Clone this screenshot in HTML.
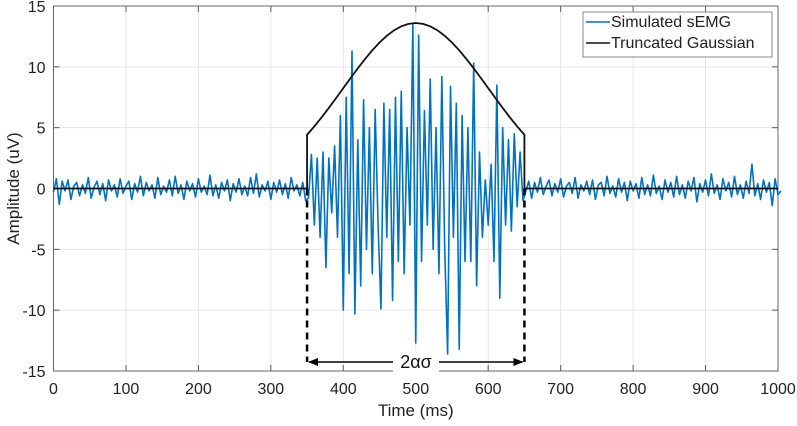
<!DOCTYPE html>
<html><head><meta charset="utf-8"><style>
body{margin:0;background:#fff;}
svg{display:block;font-family:"Liberation Sans",sans-serif;}
</style></head><body>
<svg id="chart" width="797" height="426" viewBox="0 0 797 426">
<g id="grid"></g>
<g id="axes"></g>
<g id="series"></g>
<g id="annot"></g>
<g id="legend"></g>
</svg>
<script>
const xTicks=[0,100,200,300,400,500,600,700,800,900,1000];
const yTicks=[-15,-10,-5,0,5,10,15];
const sampleStep=4;
const noiseLeft=[-0.3,0.8,-1.3,0.6,-0.2,0.7,-0.9,0.2,0.5,-0.6,0.3,-0.4,0.9,-0.8,0.1,0.6,-0.5,0.4,-1.0,0.7,-0.2,0.3,-0.7,0.8,-0.4,0.2,0.6,-0.9,0.4,-0.3,1.0,-0.6,0.5,-0.2,0.3,-0.8,0.9,-0.5,0.2,-0.3,0.7,-0.6,1.0,-0.4,0.3,-0.9,0.6,-0.2,0.4,-0.7,0.8,-0.3,0.2,-0.5,1.1,-0.6,0.3,-0.8,0.5,-0.2,0.7,-1.0,0.4,-0.3,0.8,-0.5,0.2,-0.6,0.9,-0.4,1.2,-0.7,0.3,-0.2,0.6,-0.9,0.5,-0.3,0.7,-0.5,0.4,-0.8,0.9,-0.2,0.3,-0.6,0.5,-1.0];
const burst=[-0.8,2.8,-3,2.5,-4,3,-6.5,2.5,-2,3.5,-4,6,-10,7.5,-7,11.3,-10.3,4,-8,7.3,-5,5,-7,6.5,-3,-9.9,7,-4,6.5,-9.2,7.5,-6,8,-7,5,-3,13.5,-12.7,12.6,-6,6.4,-3,9,-5,5,-7,9.2,-5,-13.6,8.4,-4,7,-13.2,6,-6,5,-6,10.3,-8,3,-4,0.7,-3,2,-6,8.5,-9,5,-3,4,-3.5,4.5,-1.5,3,-1];
const noiseRight=[-0.2,0.6,-0.8,0.5,-0.3,0.9,-0.5,0.2,0.7,-0.6,0.4,-0.3,0.8,-0.7,0.2,0.5,-0.4,0.9,-0.8,0.3,-0.2,0.6,-0.5,0.7,-0.9,0.3,0.5,-0.6,1.0,-0.4,0.2,-0.7,0.8,-0.3,0.5,-1.0,0.6,-0.2,0.4,-0.8,0.9,-0.5,0.3,-0.6,1.1,-0.4,0.2,-0.9,0.7,-0.3,0.5,-0.7,1.0,-0.5,0.3,-0.8,0.6,-0.2,0.9,-1.1,0.4,-0.3,0.7,-0.6,1.2,-0.4,0.3,-0.9,0.8,-0.2,0.5,-0.7,1.0,-0.5,0.3,-0.8,0.6,-0.4,2.0,-0.6,0.4,-0.9,0.7,-0.3,0.5,-1.4,0.8,-0.5,-0.2];
const gaussT=[350,360,370,380,390,400,410,420,430,440,450,460,470,480,490,500,510,520,530,540,550,560,570,580,590,600,610,620,630,640,650];
const gaussV=[4.42,5.10,5.84,6.62,7.43,8.25,9.07,9.88,10.64,11.36,12.00,12.55,13.00,13.33,13.53,13.6,13.53,13.33,13.00,12.55,12.00,11.36,10.64,9.88,9.07,8.25,7.43,6.62,5.84,5.10,4.42];
const truncStart=350, truncEnd=650;

const L=53.5,R=778,T=6,B=371;
const X=v=>L+(v-0)/(1000-0)*(R-L);
const Y=v=>B-(v+15)/30*(B-T);
const NS="http://www.w3.org/2000/svg";
function mk(tag,attrs,parent){const e=document.createElementNS(NS,tag);for(const k in attrs)e.setAttribute(k,attrs[k]);parent.appendChild(e);return e;}
const grid=document.getElementById('grid'),axes=document.getElementById('axes'),series=document.getElementById('series'),annot=document.getElementById('annot'),legend=document.getElementById('legend');

mk('rect',{x:L,y:T,width:R-L,height:B-T,fill:'#fff'},grid);
xTicks.forEach(t=>{
 const g=mk('line',{x1:X(t),x2:X(t),y1:T,y2:B,stroke:'#e6e6e6','stroke-width':1},grid);
 
 
 mk('line',{x1:X(t),x2:X(t),y1:B,y2:B-6,stroke:'#5a5a5a','stroke-width':1},axes);
 mk('line',{x1:X(t),x2:X(t),y1:T,y2:T+6,stroke:'#5a5a5a','stroke-width':1},axes);
 const tx=mk('text',{x:X(t),y:B+23,'text-anchor':'middle','font-size':16,fill:'#222'},axes);
 tx.textContent=t;
 
 
});
yTicks.forEach(t=>{
 const g=mk('line',{x1:L,x2:R,y1:Y(t),y2:Y(t),stroke:'#e6e6e6','stroke-width':1},grid);
 
 
 mk('line',{x1:L,x2:L+6,y1:Y(t),y2:Y(t),stroke:'#5a5a5a','stroke-width':1},axes);
 mk('line',{x1:R,x2:R-6,y1:Y(t),y2:Y(t),stroke:'#5a5a5a','stroke-width':1},axes);
 const tx=mk('text',{x:L-8,y:Y(t)+6,'text-anchor':'end','font-size':16,fill:'#222'},axes);
 tx.textContent=t;
 
 
});
mk('rect',{x:L,y:T,width:R-L,height:B-T,fill:'none',stroke:'#666','stroke-width':1},axes);
const xt=mk('text',{x:X(500),y:B+45,'text-anchor':'middle','font-size':17,fill:'#222'},axes);
xt.textContent='Time (ms)';


const yt=mk('text',{x:0,y:0,'text-anchor':'middle','font-size':17,fill:'#222',transform:`translate(19,${Y(0)}) rotate(-90)`},axes);
yt.textContent='Amplitude (uV)';



const sig=noiseLeft.concat(burst,noiseRight);
let d='';
sig.forEach((v,i)=>{d+=(i?'L':'M')+X(i*sampleStep).toFixed(2)+','+Y(v).toFixed(2);});
const sp=mk('path',{d:d,fill:'none',stroke:'#0072BD','stroke-width':1.6,'stroke-linejoin':'round'},series);



let gd='M'+X(0)+','+Y(0)+'L'+X(truncStart)+','+Y(0);
gaussT.forEach((t,i)=>{gd+='L'+X(t).toFixed(2)+','+Y(gaussV[i]).toFixed(2);});
gd+='L'+X(truncEnd)+','+Y(0)+'L'+X(1000)+','+Y(0);
const gp=mk('path',{d:gd,fill:'none',stroke:'#111','stroke-width':1.8},series);



const ay=362;
[truncStart,truncEnd].forEach(t=>{
 const l=mk('line',{x1:X(t),x2:X(t),y1:Y(0),y2:ay,stroke:'#000','stroke-width':2.5,'stroke-dasharray':'7,5'},annot);
 
 
});
mk('defs',{},annot).innerHTML='<marker id="ah" markerWidth="10" markerHeight="8" refX="9" refY="4" orient="auto-start-reverse" markerUnits="userSpaceOnUse"><path d="M0,0L10,4L0,8z" fill="#000"/></marker>';
const ar=mk('line',{x1:X(truncStart)+2,x2:X(truncEnd)-2,y1:ay,y2:ay,stroke:'#000','stroke-width':1.6,'marker-start':'url(#ah)','marker-end':'url(#ah)'},annot);


mk('rect',{x:393,y:350,width:46,height:23,fill:'#fff'},annot);
const at=mk('text',{x:416,y:368,'text-anchor':'middle','font-size':18,fill:'#111'},annot);
at.textContent='2ασ';



const lb=mk('rect',{x:583,y:12,width:189,height:45,fill:'#fff',stroke:'#888','stroke-width':1},legend);


[['Simulated sEMG','#0072BD',27],['Truncated Gaussian','#111',48]].forEach(([n,c,y])=>{
 mk('line',{x1:586,x2:610,y1:y-5,y2:y-5,stroke:c,'stroke-width':1.6},legend);
 const t=mk('text',{x:611,y:y,'font-size':16,fill:'#222'},legend);
 t.textContent=n;
 
 
});
</script>
</body></html>
